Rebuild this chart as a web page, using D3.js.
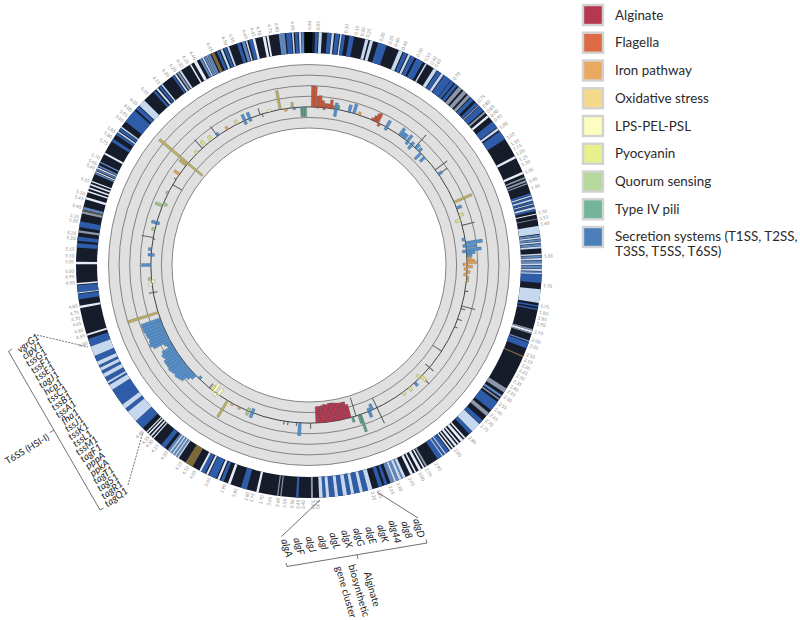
<!DOCTYPE html>
<html><head><meta charset="utf-8">
<script src="https://cdn.jsdelivr.net/npm/d3@7/dist/d3.min.js"></script>
<style>html,body{margin:0;background:#fff}svg{display:block}text{font-family:Lato,"Open Sans",sans-serif}</style>
</head><body><div id="c"></div>
<script>
// genome track features: [start, end] as angular genome position (degrees clockwise from origin)
const blueGenes=[[1.5,2.2],[4.5,5.5],[6.5,7.5],[8.2,9],[10,11.2],[17.3,19.5],[24,25],[26,27],[27.5,29.3],[33.5,34.5],[35.5,37.5],[37.6,38.5],[38.8,39.6],[44,45],[45.7,46.5],[47,48.5],[52,53.8],[55,57.3],[72,72.5],[73,73.4],[74,74.5],[75,75.4],[76.1,76.6],[92.2,94.4],[100,100.4],[100.8,101.2],[109.5,111],[126,128.6],[131.8,132.9],[135.5,136.5],[143,144],[144.3,144.9],[145.2,146.5],[160.3,161],[161.6,162.6],[165.3,166.6],[167.4,168.8],[169.6,170.6],[171.6,172.8],[173.6,175],[175.8,176.6],[182.6,183.2],[195.5,197],[201.5,202.3],[203.5,205.5],[206.5,207.6],[218.2,219.4],[225.5,228],[231,232],[233.2,237.6],[239,239.5],[240,241.2],[242.2,243],[243.8,244.5],[245.5,247],[249.5,251.5],[261.5,262.8],[263.2,265],[274.3,275.4],[276,277],[279.4,280.8],[302,302.8],[304,304.6],[305.3,306],[308,311.5],[312,313],[318,318.6],[319.8,320.4],[324,324.5],[336.6,337.3],[338.5,339.2],[342,342.8],[345,346],[354.3,355.6],[356.5,357.3]];
const steelGenes=[[82.5,83],[83.6,84.1],[84.7,85.3],[87.7,88.2],[88.9,89.5],[90.1,90.9],[91.6,92.2],[108.9,109.3],[124,124.6],[156.2,156.6],[157.3,158],[158.5,159.5],[214.4,214.8],[215.2,215.6],[216,216.4],[216.8,217.4],[283.8,284.5],[293,293.4],[294,294.4],[295,295.4],[296,296.4],[332,332.6],[333.2,333.8],[334.2,334.9],[343.2,344],[352.5,354],[358.1,358.7]];
const lightGenes=[[2.4,3.2],[5.6,6.2],[7.7,8.1],[14,14.8],[15.2,16],[22.7,23.7],[25.2,25.8],[30,30.4],[32.4,33.3],[34.6,35.3],[54,54.6],[72.6,72.9],[73.5,73.9],[74.6,74.9],[75.5,76],[80.3,82.3],[83.1,83.5],[84.2,84.6],[85.4,85.9],[87.2,87.6],[88.3,88.8],[89.6,90],[91,91.5],[96,99.4],[133,135.5],[144,144.3],[144.9,145.2],[155.5,156.2],[156.6,157.3],[158,158.5],[164.2,165.3],[166.6,167.4],[168.8,169.6],[170.6,171.6],[172.8,173.6],[175,175.8],[176.6,177.5],[214,214.4],[214.8,215.2],[215.6,216],[216.4,216.8],[228,231],[232,233.2],[237.6,239],[239.5,240],[241.2,242.2],[243,243.8],[244.5,245.5],[247,249.5],[304.7,305.1],[306.1,306.5],[313.2,315],[319,319.5],[320.6,321],[324.7,325.2],[326.2,326.7],[332.7,333.1],[333.9,334.1],[337.6,338.2],[339.4,339.9],[344.2,344.6],[355.8,356.2],[357.5,358]];
const whiteGenes=[[50,50.6],[62.1,62.7],[66.4,67],[77.2,77.5],[92,92.2],[106.4,106.9],[137.8,138.2],[138.6,139.3],[139.8,140.2],[140.6,141.2],[141.6,142],[142.4,142.8],[150.3,150.7],[151.2,151.9],[152.6,153],[153.5,154.2],[192.5,193.1],[199.7,200.4],[202.6,203.2],[205.7,206.2],[207.6,208.1],[221.8,222.1],[222.5,222.9],[223.3,223.7],[224,224.3],[252.3,252.8],[259.3,259.9],[263,263.2],[265.2,265.6],[270.2,270.8],[286.4,287],[288.2,288.6],[289.1,289.5],[290,290.4],[290.9,291.2],[293.5,293.8],[294.5,294.8],[298.4,298.9],[329.2,329.6],[330.4,331.2],[346,346.6],[348.5,349.2],[349.5,350]];
const greyGenes=[[40,41],[41.5,42.5],[43,43.8],[46.6,46.9],[48.8,49.3],[67.8,68.2],[68.6,69.1],[69.4,69.7],[78.5,78.7],[106,106.4],[106.9,107.2],[122,123.2],[125,125.4],[129.4,130.4],[149.5,150],[179,179.5],[186.8,187.1],[187.6,187.9],[278,278.6],[282.8,283.4],[325.5,326]];
const tanGenes=[[113,113.3],[210,212],[283.5,283.7],[335.2,336]];
const blackGenes=[[359,360],[0,0.8]];

// expression track: [genome position (deg), value on the radial scale]
const alginate=[[165,-1.3],[166,-1.6],[167,-1.6],[168,-1.6],[169,-1.65],[170,-1.7],[171,-1.75],[172,-1.75],[173,-1.65],[174,-1.7],[175,-1.6],[176,-1.55],[177,-1.55]];
const flagella=[[1.3,2.0],[2.2,1.95],[3.2,1.05],[4,1.1],[5,0.65],[6,0.4],[7,0.4],[8,0.8],[8.7,0.3],[3,-0.1],[5.5,-0.2],[23.6,0.2],[24.4,0.5],[25.1,0.8],[25.7,0.9],[26.4,-0.3]];
const ironPathway=[[18.5,0.3],[87.6,0.4],[88.4,0.7],[89.1,0.9],[89.8,-0.4],[90.6,0.5],[91.5,-0.3],[92.5,0.3],[93.5,-0.3],[94.5,0.2],[95.6,0.2],[206,0.2],[209,0.2],[305,0.6],[329,0.3],[351.5,-0.25]];
const oxidative=[[66.6,1.8],[211,1.8],[252.5,3.0],[309,0.8],[354,0.5],[310,3.5],[310,-1.8],[349.5,1.8]];
const lpsPelPsl=[[263,0.3],[264,-0.3],[215,-0.7],[217,-0.9],[345.5,0.2],[216,0.3]];
const pyocyanin=[[71.7,0.4],[73.5,-0.5],[134.7,0.6],[135.5,-0.4],[140.7,0.4],[143.5,0.3],[315,0.3],[319,0.6],[322,0.5],[333,0.4],[218,-0.5]];
const quorumSensing=[[265,0.3],[283,0.3],[292,0.7],[292.8,-0.4],[297,0.2],[202.6,0.4],[202.6,-0.3]];
const typeIVPili=[[161,1.7],[161.6,0.8],[164,0.5],[357.3,-0.9],[358,-0.9],[358.7,-0.9],[10.6,0.4]];
const secretion=[[9.8,0.6],[9.8,-0.7],[14.7,0.7],[16.5,0.9],[29.4,0.7],[29.4,-0.3],[35,0.8],[36,0.5],[37,0.5],[38.5,0.7],[38.7,-0.3],[40.5,-0.5],[40.5,0.3],[42.5,0.5],[44,0.4],[45,-0.8],[47,-0.6],[55,0.4],[68.9,0.5],[80.7,-0.3],[82,1.6],[83.3,1.0],[84.5,1.4],[85.5,0.8],[86.5,0.5],[83,-0.3],[85,-0.4],[138,0.4],[157.6,0.6],[157.6,-0.3],[156.4,-0.6],[183.3,1.2],[201,0.5],[201,-0.4],[224,-0.3],[226,0.5],[227,0.8],[228,1.3],[229,1.4],[230,1.5],[231,1.4],[232,1.5],[233,1.6],[234,1.5],[235,1.5],[236,1.5],[237,1.3],[238,1.4],[239,1.2],[240,0.5],[241,0.7],[242,1.7],[243,1.9],[244,1.8],[245,1.7],[246,1.8],[247,1.8],[248,1.9],[249,1.9],[250,1.9],[270,0.9],[273.7,0.3],[273.7,-0.3],[275.7,0.3],[285.5,0.5],[285.5,-0.3],[325,0.3],[336,0.6],[336,-0.4],[338,0.6],[338,-0.3],[354.6,-0.2]];
const otherGenes=[[42,1.6],[53,1.4],[55,1],[75.5,1.2],[99.5,0.3],[105,1.3],[106,0.4],[110,0.4],[113,0.3],[123,-1],[130.4,0.5],[130.4,-0.5],[134.7,1],[162.7,-1.8],[154.5,1.6],[154.5,-1],[179.4,0.5],[187.6,0.3],[184.5,0.3],[189,0.3],[219,-0.5],[260,0.4],[260,-0.4],[280,1.1],[279.5,-0.2],[300.5,-1],[302.8,0.2],[317.6,1.1],[324.6,1.1],[342,0.6],[342.8,-0.3]];

const tickLabels=["0.00","0.05","0.10","0.15","0.20","0.25","0.30","0.35","0.40","0.45","0.50","0.55","0.60","0.65","0.70","0.75","0.80","0.85","0.90","0.95","1.00","1.05","1.10","1.15","1.20","1.25","1.30","1.35","1.40","1.45","1.50","1.55","1.60","1.65","1.70","1.75","1.80","1.85","1.90","1.95","2.00","2.05","2.10","2.15","2.20","2.25","2.30","2.35","2.40","2.45","2.50","2.55","2.60","2.65","2.70","2.75","2.80","2.85","2.90","2.95","3.00","3.05","3.10","3.15","3.20","3.25","3.30","3.35","3.40","3.45","3.50","3.55","3.60","3.65","3.70","3.75","3.80","3.85","3.90","3.95","4.05","4.10","4.15","4.20","4.25","4.30","4.35","4.40","4.50","4.55","4.60","4.65","4.70","4.75","4.80","4.90","4.95","5.00","5.05","5.10","5.15","5.20","5.25","5.30","5.35","5.40","5.45","5.50","5.55","5.60","5.65","5.70","5.75","5.80","5.85","5.90","5.95","6.00","6.05","6.10","6.15","6.20","6.25","6.30","6.35","6.40","6.45","6.50","6.55","6.60","6.65","6.70","6.75","6.80","6.85"];
const tickPositions=[0,2.2,9,11.5,13,14.4,17.8,20,21.5,23.5,27.5,29.7,31.3,32.5,38,46,47.7,49.3,50.7,52.1,54.3,57.3,59.2,60.5,61.9,63.5,64.8,66.8,69.2,70.9,77.2,78.6,80,87.8,95,100,101.6,103,104.4,106.4,108.5,110,112.3,113.7,115.2,116.6,118,119.5,121,122.4,124,126,127.8,129.5,131.2,132.9,137,141.6,147.4,150,152,154.7,157.8,159.9,162.8,164.4,177.9,179,181.4,182.6,184,185.8,187.5,189.5,191.5,193.7,195,198,201,205,209,211,213,217.3,220,221.8,223,225,250.6,252.6,254,255.7,257,258.4,260,265.7,267.2,268.5,270.8,272.2,273.8,276.5,277.7,280.7,281.8,284.2,286.3,287.6,290.8,294.3,295.5,297,301,302.9,304.4,307.7,309.3,311,313,316.7,320.5,323.3,325.4,327.4,329,331,335.5,339.4,341.2,344.5,346.5,347.9,350.6,352.3,356.1];

const legendLabels=["Alginate","Flagella","Iron pathway","Oxidative stress","LPS-PEL-PSL","Pyocyanin","Quorum sensing","Type IV pili","Secretion systems (T1SS, T2SS,|T3SS, T5SS, T6SS)"];
const legendColors=["#b5384f","#dc6a45","#e9a961","#f5d98a","#fdfdc0","#e6f18c","#b4d99a","#72b59a","#4a7fbb"];
const t6ssGenes=["vgrG1","clpV1","tssG1","tssF1","tssE1","tagJ1","hcp1","tssC1","tssB1","tssA1","fha1","tssJ1","tssK1","tssL1","tssM1","tagF1","pppA","ppkA","tagT1","tagS1","tagR1","tagQ1"];
const algGenes=["algA","algF","algJ","algI","algL","algX","algG","algE","algK","alg44","alg8","algD"];
const algTitle=["Alginate","biosynthetic","gene cluster"];
const gridLevels=[-2,-1,0,1,2,3,4];

const W=800,H=620,cx=309,cy=265;
const svg=d3.select("#c").append("svg").attr("width",W).attr("height",H).attr("viewBox",`0 0 ${W} ${H}`);
svg.append("defs").append("filter").attr("id","soft").append("feGaussianBlur").attr("stdDeviation",0.4);
const g=svg.append("g").attr("transform",`translate(${cx},${cy})`);
const ang=d3.scaleLinear().domain([0,360]).range([0,2*Math.PI]);
const rad=d3.scaleLinear().domain([-2,4]).range([137,200.5]);
const ringR=[212,233];
const arc=d3.arc();

// outer gene ring
const ring=g.append("g").attr("filter","url(#soft)");
ring.append("path").attr("d",arc({innerRadius:ringR[0],outerRadius:ringR[1],startAngle:0,endAngle:2*Math.PI})).attr("fill","#151c2b");
const stripeSets=[[blueGenes,"#2f5ca8"],[steelGenes,"#5f85bd"],[lightGenes,"#c6d8f0"],[whiteGenes,"#e6edf8"],[greyGenes,"#8b97a8"],[tanGenes,"#7a6a3a"],[blackGenes,"#05070a"]];
stripeSets.forEach(([data,color])=>{
  ring.append("g").selectAll("path").data(data).join("path")
   .attr("d",d=>arc({innerRadius:ringR[0],outerRadius:ringR[1],startAngle:ang(d[0]),endAngle:ang(d[1])}))
   .attr("fill",color);
});

// tick labels
g.append("g").selectAll("text").data(tickLabels).join("text")
 .attr("transform",(d,i)=>{const a=tickPositions[i];
   return a<=180?`rotate(${a-90}) translate(${ringR[1]+2},0)`:`rotate(${a-90}) translate(${ringR[1]+2},0) rotate(180)`;})
 .attr("text-anchor",(d,i)=>tickPositions[i]<=180?"start":"end")
 .attr("dy","0.35em").attr("font-size",4.6).attr("fill","#8a8a8a").text(d=>d);

// inner track
g.append("path").attr("d",arc({innerRadius:rad(-2),outerRadius:rad(4),startAngle:0,endAngle:2*Math.PI})).attr("fill","#e0e0e0");
g.append("g").selectAll("circle").data(gridLevels).join("circle")
 .attr("r",d=>rad(d)).attr("fill","none").attr("stroke",d=>d===0?"#1a1a1a":"#6a6a6a").attr("stroke-width",0.8);

const barSets=[[otherGenes,"#4a4a4a",0.22],[alginate,"#b5384f",1.05],[flagella,"#c9583a",0.95],[ironPathway,"#e5a35a",0.95],[oxidative,"#bdb060",0.8],[lpsPelPsl,"#fdfdc0",1.1],[pyocyanin,"#dbe487",1.0],[quorumSensing,"#a5c487",1.0],[typeIVPili,"#5f9f87",0.85],[secretion,"#5590cb",1.05]];
barSets.forEach(([data,color,w])=>{
  g.append("g").selectAll("path").data(data).join("path")
   .attr("d",d=>arc({innerRadius:rad(0),outerRadius:rad(d[1]),startAngle:ang(d[0]-w/2),endAngle:ang(d[0]+w/2)}))
   .attr("fill",color).attr("stroke","#3a4450").attr("stroke-width",0.25);
});

// legend
const leg=svg.append("g");
const legY=d3.scalePoint().domain(legendLabels).range([15,237]);
leg.selectAll("rect").data(legendLabels).join("rect")
 .attr("x",583).attr("y",d=>legY(d)-10).attr("width",20).attr("height",20)
 .attr("fill",(d,i)=>legendColors[i]).attr("stroke","#d2d2d2").attr("stroke-width",2.4);
leg.selectAll("text").data(legendLabels).join("text")
 .attr("x",615).attr("y",d=>legY(d)+(d.includes("|")?3.5:4.5)).attr("font-size",13.4).attr("fill","#2a2a2a")
 .each(function(d){d.split("|").forEach((s,i)=>d3.select(this).append("tspan").attr("x",615).attr("dy",i?15:0).text(s));});

// T6SS annotation
const ann=svg.append("g");
const line=(x1,y1,x2,y2,dash,c)=>ann.append("line").attr("x1",x1).attr("y1",y1).attr("x2",x2).attr("y2",y2).attr("stroke",c||"#333").attr("stroke-width",0.7).attr("stroke-dasharray",dash||null);
const tU=d3.scalePoint().domain(t6ssGenes);
const tx=tU.copy().range([28,116]),ty=tU.copy().range([343,497]);
ann.selectAll("text.t6").data(t6ssGenes).join("text").attr("class","t6")
 .attr("transform",d=>`translate(${tx(d)},${ty(d)}) rotate(-36)`)
 .attr("text-anchor","middle").attr("dy","0.35em").attr("font-size",9.8).attr("font-style","italic").attr("fill","#222").text(d=>d);
line(8.5,351.5,100,510);line(8.5,351.5,12,349);line(100,510,103.5,508);line(50,432.5,54,430);
line(37,335,88,347,"2,1.2");line(128,485,143,432,"2,1.2");
ann.append("text").attr("transform","translate(27,449) rotate(-31)").attr("text-anchor","middle").attr("dy","0.35em").attr("font-size",9.4).attr("fill","#222").text("T6SS (HSI-I)");

// alginate annotation
const aU=d3.scalePoint().domain(algGenes);
const ax=aU.copy().range([287,419]),ay=aU.copy().range([548,528]);
ann.selectAll("text.alg").data(algGenes).join("text").attr("class","alg")
 .attr("transform",d=>`translate(${ax(d)},${ay(d)}) rotate(74)`)
 .attr("text-anchor","middle").attr("dy","0.35em").attr("font-size",10).attr("font-style","italic").attr("fill","#222").text(d=>d);
line(287,566.5,427,543);line(287,566.5,286,563);line(427,543,426,539.5);line(357,555,358,559);
line(281.5,536.5,320,500);line(418,518,377,492);
const tx2=d3.scalePoint().domain(algTitle).range([372,346]),ty2=d3.scalePoint().domain(algTitle).range([589,592]);
ann.selectAll("text.ttl").data(algTitle).join("text").attr("class","ttl")
 .attr("transform",d=>`translate(${tx2(d)},${ty2(d)}) rotate(74)`)
 .attr("text-anchor","middle").attr("dy","0.35em").attr("font-size",10).attr("fill","#222").text(d=>d);
</script></body></html>
